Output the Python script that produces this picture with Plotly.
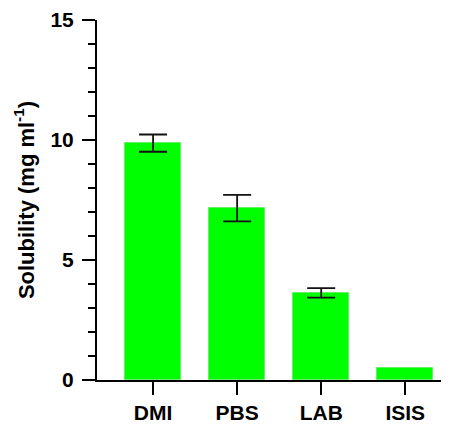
import plotly.graph_objects as go

categories = ["DMI", "PBS", "LAB", "ISIS"]
solubility = [9.87, 7.16, 3.63, 0.51]
# ISIS has no error bar in the reference, so only the first three have one
error = [0.36, 0.55, 0.20]

FONT = "Arial, Liberation Sans, sans-serif"

fig = go.Figure()
fig.add_trace(go.Bar(
    x=list(range(len(categories))),
    y=solubility,
    width=0.667,
    marker=dict(color="#00ff00", line=dict(color="#66ee66", width=1)),
    error_y=dict(type="data", array=error, visible=True, color="#111111",
                 thickness=1.8, width=14),
))

# page body has an 8px margin, so the figure is sized to fill the rest
fig.update_layout(
    width=441, height=416,
    margin=dict(l=89, r=0, t=12, b=41),
    plot_bgcolor="white", paper_bgcolor="white",
    showlegend=False,
    font=dict(family=FONT, color="black"),
    bargap=0,
)
fig.update_xaxes(
    range=[-0.667, 3.52],
    tickmode="array", tickvals=list(range(len(categories))), ticktext=categories,
    showline=True, linecolor="black", linewidth=2,
    ticks="outside", ticklen=13, tickwidth=2, tickcolor="black",
    tickfont=dict(family=FONT, size=21, color="black", weight="bold"),
    showgrid=False, zeroline=False,
)
fig.update_yaxes(
    range=[0, 15], dtick=5, tick0=0,
    showline=True, linecolor="black", linewidth=2,
    ticks="outside", ticklen=13, tickwidth=2, tickcolor="black",
    tickfont=dict(family=FONT, size=21, color="black", weight="bold"),
    ticklabelstandoff=4,
    minor=dict(dtick=1, ticks="outside", ticklen=7, tickwidth=2, tickcolor="black", showgrid=False),
    showgrid=False, zeroline=False,
    title=dict(text="<b>Solubility (mg ml<sup>-1</sup>)</b>",
               font=dict(family=FONT, size=22, color="black"), standoff=10),
)

fig.write_html("out.html")
